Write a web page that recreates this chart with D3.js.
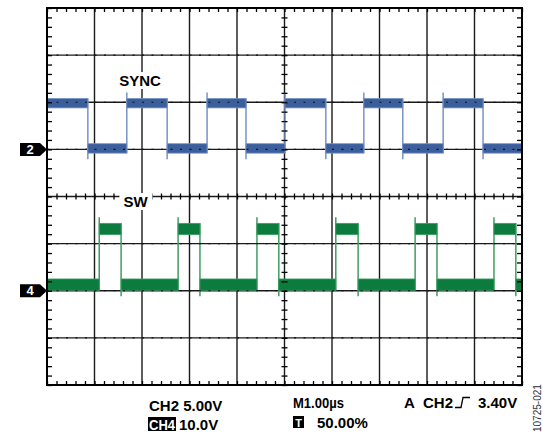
<!DOCTYPE html>
<html>
<head>
<meta charset="utf-8">
<script src="https://cdn.jsdelivr.net/npm/d3@7"></script>
<style>
  html, body { margin: 0; padding: 0; background: #fff; }
  svg { display: block; font-family: "Liberation Sans", Arial, sans-serif; }
</style>
</head>
<body>
<svg id="scope" width="543" height="434"></svg>
<script>
// time in us (center of screen = 0), levels in volts
const syncRise = [-3.32, -1.63, 0.01, 1.67, 3.34];
const syncFall = [-4.14, -2.47, -0.81, 0.87, 2.49, 4.18];
const syncLevels = [0.1, 4.9];     // low, high
const syncNoise = 1.0;             // pk-pk band
const swRise = [-3.90, -2.24, -0.58, 1.08, 2.75, 4.41];
const swFall = [-3.44, -1.78, -0.12, 1.55, 3.21, 4.87];
const swLevels = [1.3, 13.1];
const swNoise = 2.4;

const channels = [
    {name: "2", label: "SYNC", vdiv: 5, offset: 1, rise: syncRise, fall: syncFall,
     levels: syncLevels, noise: syncNoise, startHigh: true, color: "#3b5e9d", edge: "#7893c4"},
    {name: "4", label: "SW", vdiv: 10, offset: -2, rise: swRise, fall: swFall,
     levels: swLevels, noise: swNoise, startHigh: false, color: "#0b7b3e", edge: "#3f9d63"}
];

const divX = d3.range(-5, 5.01, 1);
const divY = d3.range(-4, 4.01, 1);
const minorX = d3.range(-5, 5.001, 0.2);
const minorY = d3.range(-4, 4.001, 0.2);

const X0 = 47, X1 = 522, Y0 = 8, Y1 = 385;
const svg = d3.select("#scope");
const x = d3.scaleLinear().domain([-5, 5]).range([X0, X1]);
const y = d3.scaleLinear().domain([-4, 4]).range([Y1, Y0]);

function yv(ch, v){
    return y(ch.offset + v / ch.vdiv);
}

// graticule
const grid = svg.append("g");
grid.selectAll(".gx").data(divX.slice(1, -1)).join("line")
    .attr("x1", d => x(d)).attr("x2", d => x(d))
    .attr("y1", Y0).attr("y2", Y1)
    .attr("stroke", "#1a1a1a").attr("stroke-width", 1.4);
grid.selectAll(".gy").data(divY.slice(1, -1)).join("line")
    .attr("y1", d => y(d)).attr("y2", d => y(d))
    .attr("x1", X0).attr("x2", X1)
    .attr("stroke", "#1a1a1a").attr("stroke-width", 1.4);

// traces
const traces = svg.append("g");
channels.forEach(ch => {
    let edges = ch.rise.map(t => ({t: t, up: true}))
        .concat(ch.fall.map(t => ({t: t, up: false})))
        .sort((a, b) => a.t - b.t);
    let segs = [];
    let state = ch.startHigh, start = -5;
    edges.forEach(e => {
        segs.push({a: start, b: e.t, high: state});
        state = e.up;
        start = e.t;
    });
    segs.push({a: start, b: 5, high: state});

    let g = traces.append("g");
    let band = ch.noise / 2;
    let overshoot = 6;
    g.selectAll(".edge").data(edges).join("line")
        .attr("x1", d => x(d.t)).attr("x2", d => x(d.t))
        .attr("y1", d => d.up ? yv(ch, ch.levels[0] - band) : yv(ch, ch.levels[1] + band))
        .attr("y2", d => d.up ? yv(ch, ch.levels[1] + band) - overshoot : yv(ch, ch.levels[0] - band) + overshoot)
        .attr("stroke", ch.edge).attr("stroke-width", 1.5);
    g.selectAll(".seg").data(segs).join("rect")
        .attr("x", d => x(d.a))
        .attr("width", d => x(d.b) - x(d.a))
        .attr("y", d => yv(ch, ch.levels[d.high ? 1 : 0] + band))
        .attr("height", d => yv(ch, -band) - yv(ch, band))
        .attr("fill", ch.color)
        .attr("stroke", ch.edge).attr("stroke-width", 0.8);
});

// graticule dots showing through the traces
const dots = svg.append("g");
dots.selectAll(".dx").data(divY.slice(1, -1)).join("line")
    .attr("y1", d => y(d)).attr("y2", d => y(d))
    .attr("x1", X0).attr("x2", X1)
    .attr("stroke", "#111").attr("stroke-width", 1.2)
    .attr("stroke-dasharray", "2,7.5");

// frame
svg.append("rect")
    .attr("x", X0).attr("y", Y0).attr("width", X1 - X0).attr("height", Y1 - Y0)
    .attr("fill", "none").attr("stroke", "#000").attr("stroke-width", 2);

// minor ticks on border and on the center lines
function ticks(axis, transform){
    svg.append("g").attr("transform", transform)
        .call(axis.tickFormat("").tickSizeOuter(0))
        .call(g => g.select(".domain").remove())
        .call(g => g.selectAll("line").attr("stroke", "#000").attr("stroke-width", 1.3));
}
ticks(d3.axisBottom(x).tickValues(minorX).tickSizeInner(4), `translate(0,${Y0})`);
ticks(d3.axisTop(x).tickValues(minorX).tickSizeInner(4), `translate(0,${Y1})`);
ticks(d3.axisRight(y).tickValues(minorY).tickSizeInner(5), `translate(${X0},0)`);
ticks(d3.axisLeft(y).tickValues(minorY).tickSizeInner(5), `translate(${X1},0)`);
ticks(d3.axisBottom(x).tickValues(minorX).tickSizeInner(3), `translate(0,${y(0)})`);
ticks(d3.axisTop(x).tickValues(minorX).tickSizeInner(3), `translate(0,${y(0)})`);
ticks(d3.axisRight(y).tickValues(minorY).tickSizeInner(3), `translate(${x(0)},0)`);
ticks(d3.axisLeft(y).tickValues(minorY).tickSizeInner(3), `translate(${x(0)},0)`);

// trace labels, white box knocks out the grid behind them
const labelPos = [{x: 140, y: 86}, {x: 135.5, y: 207}];
channels.forEach((ch, i) => {
    let p = labelPos[i];
    let g = svg.append("g");
    let bg = g.append("rect").attr("fill", "#fff");
    let t = g.append("text")
        .attr("x", p.x).attr("y", p.y)
        .attr("text-anchor", "middle")
        .attr("font-size", 15).attr("font-weight", "bold")
        .text(ch.label);
    let bb = t.node().getBBox();
    bg.attr("x", bb.x - 4).attr("y", bb.y).attr("width", bb.width + 8).attr("height", bb.height);
});

// ground markers
channels.forEach(ch => {
    let gy = yv(ch, 0);
    svg.append("path")
        .attr("d", `M20,${gy - 6.5}H40L47,${gy}L40,${gy + 6.5}H20Z`)
        .attr("fill", "#000");
    svg.append("text")
        .attr("x", 30).attr("y", gy + 4.5)
        .attr("text-anchor", "middle")
        .attr("font-size", 13).attr("font-weight", "bold")
        .attr("fill", "#fff")
        .text(ch.name);
});

// readouts
const info = svg.append("g").attr("font-size", 15).attr("font-weight", "bold");
info.append("text").attr("x", 149).attr("y", 411).text("CH2 5.00V");
info.append("rect").attr("x", 148).attr("y", 417).attr("width", 28).attr("height", 14).attr("fill", "#000");
info.append("text").attr("x", 149).attr("y", 430).attr("fill", "#fff")
    .attr("textLength", 26).attr("lengthAdjust", "spacingAndGlyphs").text("CH4");
info.append("text").attr("x", 179).attr("y", 430).text("10.0V");
info.append("text").attr("x", 293).attr("y", 408)
    .attr("textLength", 51).attr("lengthAdjust", "spacingAndGlyphs").text("M1.00µs");
info.append("rect").attr("x", 293).attr("y", 416).attr("width", 11).attr("height", 12).attr("fill", "#000");
info.append("text").attr("x", 298.5).attr("y", 426.5).attr("text-anchor", "middle")
    .attr("font-size", 11).attr("fill", "#fff").text("T");
info.append("text").attr("x", 317).attr("y", 428).text("50.00%");
info.append("text").attr("x", 404).attr("y", 408).text("A");
info.append("text").attr("x", 423).attr("y", 408).text("CH2");
info.append("path").attr("d", "M455,407.5H461L463,397.5H470")
    .attr("fill", "none").attr("stroke", "#000").attr("stroke-width", 1.3);
info.append("text").attr("x", 478).attr("y", 408).text("3.40V");

svg.append("text")
    .attr("transform", "translate(541,432) rotate(-90)")
    .attr("font-size", 10).attr("fill", "#333")
    .text("10725-021");
</script>
</body>
</html>
